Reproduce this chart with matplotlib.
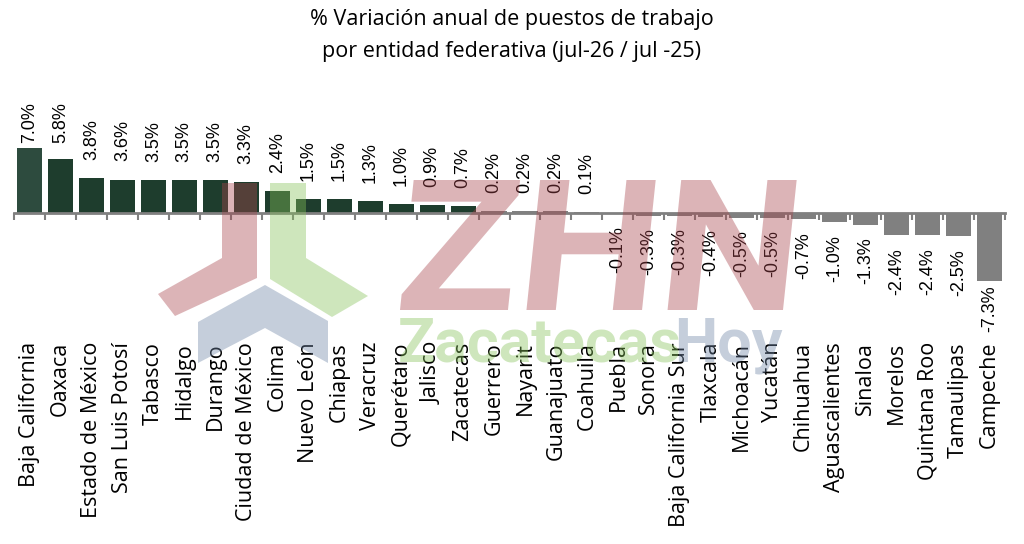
import matplotlib
matplotlib.use("Agg")
import matplotlib.pyplot as plt
import matplotlib.transforms as mtransforms
from matplotlib.patches import Polygon, PathPatch
from matplotlib.textpath import TextPath
from matplotlib.font_manager import FontProperties

# ---------------- data ----------------
states = ["Baja California", "Oaxaca", "Estado de México", "San Luis Potosí", "Tabasco",
          "Hidalgo", "Durango", "Ciudad de México", "Colima", "Nuevo León", "Chiapas",
          "Veracruz", "Querétaro", "Jalisco", "Zacatecas", "Guerrero", "Nayarit",
          "Guanajuato", "Coahuila", "Puebla", "Sonora", "Baja California Sur", "Tlaxcala",
          "Michoacán", "Yucatán", "Chihuahua", "Aguascalientes", "Sinaloa", "Morelos",
          "Quintana Roo", "Tamaulipas", "Campeche"]
values = [7.0, 5.8, 3.8, 3.6, 3.5, 3.5, 3.5, 3.3, 2.4, 1.5, 1.5, 1.3, 1.0, 0.9, 0.7,
          0.2, 0.2, 0.2, 0.1, -0.1, -0.3, -0.3, -0.4, -0.5, -0.5, -0.7, -1.0, -1.3,
          -2.4, -2.4, -2.5, -7.3]
title_lines = ["% Variación anual de puestos de trabajo",
               "por entidad federativa (jul-26 / jul -25)"]

# ---------------- styling ----------------
W, H = 1024, 544
fig = plt.figure(figsize=(W / 100, H / 100), dpi=100)
fig.patch.set_facecolor("white")

def px(x, y):
    return x / W, 1 - y / H

ax_left, ax_right = 14, 1005
ax_top, ax_bot = 138.6, 292.0
ax = fig.add_axes([ax_left / W, 1 - ax_bot / H, (ax_right - ax_left) / W, (ax_bot - ax_top) / H])
ax.set_xlim(-0.5, len(states) - 0.5)
ax.set_ylim(-8.5, 8.0)
ax.set_facecolor("none")

green = "#1e3d2d"
green_first = "#2d4b3e"
gray = "#808080"
colors = []
for i, v in enumerate(values):
    if v >= 0.5:
        colors.append(green_first if i == 0 else green)
    else:
        colors.append(gray)

xs = list(range(len(states)))
ax.bar(xs, values, width=0.81, color=colors, zorder=2)

for s in ["top", "right", "left"]:
    ax.spines[s].set_visible(False)
ax.spines["bottom"].set_position(("data", 0))
ax.spines["bottom"].set_color(gray)
ax.spines["bottom"].set_linewidth(2.0)
ax.spines["bottom"].set_zorder(3)
ax.set_yticks([])
ax.set_xticks([i - 0.5 for i in range(len(states) + 1)])
ax.tick_params(axis="x", direction="out", length=5, width=1.5, color=gray, labelbottom=False)

# value labels
for x, v in zip(xs, values):
    if v >= 0:
        ypos = min(v + 1.94, 7.5)
        ax.text(x, ypos, f"{v:.1f}%", rotation=90, ha="center", va="bottom",
                fontsize=13, family="Liberation Sans", color="black", zorder=4, clip_on=False)
    else:
        ypos = max(v - 1.35, -7.75)
        ax.text(x, ypos, f"{v:.1f}%", rotation=90, ha="center", va="top",
                fontsize=13, family="Liberation Sans", color="black", zorder=4, clip_on=False)

# category labels
trans = mtransforms.blended_transform_factory(ax.transData, fig.transFigure)
for x, name in zip(xs, states):
    ax.text(x, 1 - 342 / H, name, rotation=90, ha="center", va="top", transform=trans,
            fontsize=15.5, family="Open Sans", color="black", clip_on=False, zorder=4)

# title
fig.text(0.5, 1 - 20 / H, title_lines[0], ha="center", va="center", fontsize=15.5,
         family="Open Sans", color="black")
fig.text(0.5, 1 - 51 / H, title_lines[1], ha="center", va="center", fontsize=15.5,
         family="Open Sans", color="black")

# ---------------- watermark ----------------
pink = (0.66, 0.27, 0.30)
wgreen = (0.52, 0.76, 0.35)
wblue = (0.43, 0.52, 0.65)
a = 0.4

def poly(points, color):
    fig.patches.append(Polygon([px(x, y) for x, y in points], closed=True,
                               transform=fig.transFigure, facecolor=color, alpha=a,
                               edgecolor="none", zorder=10))

poly([(222, 183), (257, 183), (257, 278), (175, 316), (158, 294), (222, 258)], pink)
poly([(270, 183), (306, 183), (306, 258), (368, 296), (332, 317), (270, 279)], wgreen)
poly([(265, 285), (328, 321), (328, 363), (265, 328), (198, 363), (198, 322)], wblue)

# "ZHN" as a slightly slanted text path fitted into its box (pixel coords)
tp = TextPath((0, 0), "ZHN", size=100, prop=FontProperties(family="Roboto", weight="bold"))
ext = tp.get_extents()
box_x0, box_x1, box_top, box_bot = 400, 783, 180, 310
sx = (box_x1 - box_x0) / ext.width
sy = (box_bot - box_top) / ext.height
tr = (mtransforms.Affine2D()
      .translate(-ext.x0, -ext.y0)
      .scale(sx, sy)
      .skew_deg(6, 0)
      .translate(box_x0, H - box_bot))
fig.patches.append(PathPatch(tr.transform_path(tp), transform=mtransforms.IdentityTransform(),
                             facecolor=pink, edgecolor="none", alpha=a, zorder=10))

fig.text(*px(398, 362), "Zacatecas", ha="left", va="baseline", fontsize=44, family="Roboto",
         fontweight="bold", color=wgreen, alpha=a, zorder=10)
fig.text(*px(674, 362), "Hoy", ha="left", va="baseline", fontsize=44, family="Roboto",
         fontweight="bold", color=wblue, alpha=a, zorder=10)

fig.savefig("out.png", dpi=100, facecolor="white")
